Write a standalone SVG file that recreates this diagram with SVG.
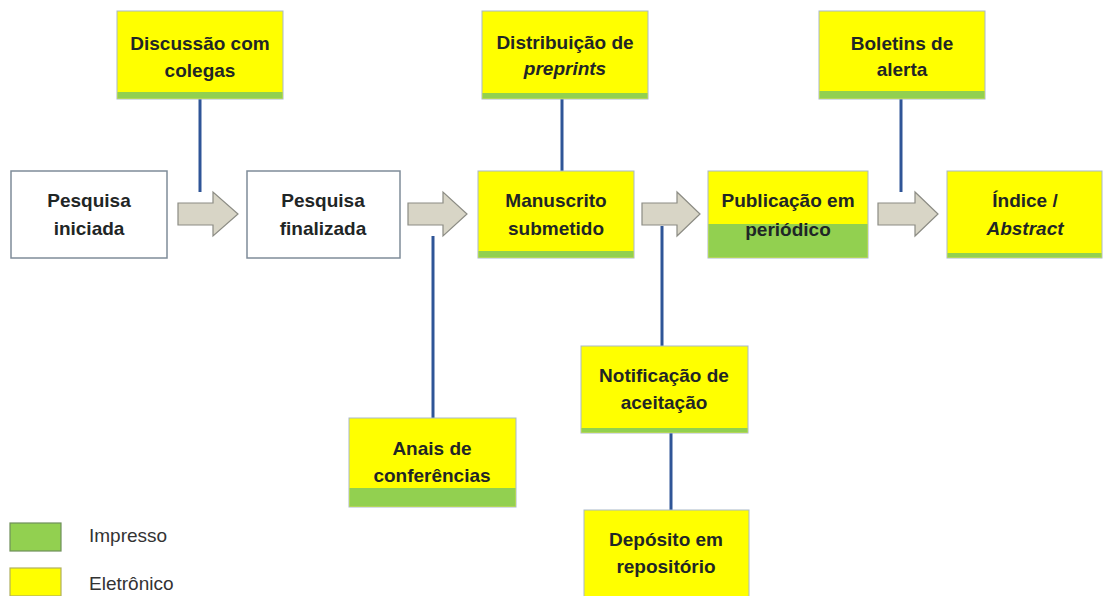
<svg xmlns="http://www.w3.org/2000/svg" width="1104" height="596" viewBox="0 0 1104 596">
<style>
.y{fill:#ffff00;stroke:#a9b9c9;stroke-width:1}
.g{fill:#92d050}
.w{fill:#ffffff;stroke:#7f8c99;stroke-width:1.5}
.t{font-family:"Liberation Sans",Arial,sans-serif;font-weight:bold;font-size:19px;fill:#1f2626;text-anchor:middle}
.i{font-style:italic}
.l{stroke:#2f5597;stroke-width:3;fill:none}
.a{fill:#d8d5c6;stroke:#8c8c84;stroke-width:1.2}
.lg{font-family:"Liberation Sans",Arial,sans-serif;font-size:19px;fill:#333}
</style>
<rect width="1104" height="596" fill="#ffffff"/>
<g id="connectors">
<line class="l" x1="200" y1="99" x2="200" y2="192"/>
<line class="l" x1="562" y1="99" x2="562" y2="171"/>
<line class="l" x1="901" y1="99" x2="901" y2="192"/>
<line class="l" x1="433" y1="236" x2="433" y2="418"/>
<line class="l" x1="662" y1="226" x2="662" y2="346"/>
<line class="l" x1="671" y1="433" x2="671" y2="510"/>
<path class="a" d="M178 203H213V192L238 214L213 236V225H178Z"/>
<path class="a" d="M408 203H443V192L467 214L443 236V225H408Z"/>
<path class="a" d="M642 203H677V192L700 214L677 236V225H642Z"/>
<path class="a" d="M878 203H915V192L938 214L915 236V225H878Z"/>
</g>
<g id="discussao">
<rect class="y" x="117" y="11" width="166" height="88"/>
<rect class="g" x="117.5" y="92" width="165" height="6.5"/>
<text class="t" x="200" y="50">Discussão com</text>
<text class="t" x="200" y="77">colegas</text>
</g>
<g id="distribuicao">
<rect class="y" x="482" y="11" width="166" height="88"/>
<rect class="g" x="482.5" y="93" width="165" height="5.5"/>
<text class="t" x="565" y="49">Distribuição de</text>
<text class="t i" x="565" y="75">preprints</text>
</g>
<g id="boletins">
<rect class="y" x="819" y="11" width="166" height="88"/>
<rect class="g" x="819.5" y="91" width="165" height="7.5"/>
<text class="t" x="902" y="50">Boletins de</text>
<text class="t" x="902" y="76">alerta</text>
</g>
<g id="pesquisa-iniciada">
<rect class="w" x="11" y="171" width="156" height="87"/>
<text class="t" x="89" y="207">Pesquisa</text>
<text class="t" x="89" y="235">iniciada</text>
</g>
<g id="pesquisa-finalizada">
<rect class="w" x="247" y="171" width="153" height="87"/>
<text class="t" x="323" y="207">Pesquisa</text>
<text class="t" x="323" y="235">finalizada</text>
</g>
<g id="manuscrito">
<rect class="y" x="478" y="171" width="156" height="87"/>
<rect class="g" x="478.5" y="251" width="155" height="6.5"/>
<text class="t" x="556" y="207">Manuscrito</text>
<text class="t" x="556" y="235">submetido</text>
</g>
<g id="publicacao">
<rect class="y" x="708" y="171" width="160" height="87"/>
<rect class="g" x="708.5" y="224" width="159" height="33.5"/>
<text class="t" x="788" y="207">Publicação em</text>
<text class="t" x="788" y="236">periódico</text>
</g>
<g id="indice">
<rect class="y" x="947" y="171" width="155" height="87"/>
<rect class="g" x="947.5" y="253" width="154" height="4.5"/>
<text class="t" x="1025" y="207">Índice /</text>
<text class="t i" x="1025" y="235">Abstract</text>
</g>
<g id="anais">
<rect class="y" x="349" y="418" width="167" height="89"/>
<rect class="g" x="349.5" y="488" width="166" height="18.5"/>
<text class="t" x="432" y="455">Anais de</text>
<text class="t" x="432" y="482">conferências</text>
</g>
<g id="notificacao">
<rect class="y" x="581" y="346" width="167" height="87"/>
<rect class="g" x="581.5" y="428" width="166" height="4.5"/>
<text class="t" x="664" y="382">Notificação de</text>
<text class="t" x="664" y="409">aceitação</text>
</g>
<g id="deposito">
<rect class="y" x="584" y="510" width="165" height="90"/>
<text class="t" x="666" y="546">Depósito em</text>
<text class="t" x="666" y="573">repositório</text>
</g>
<g id="legend">
<rect x="10" y="523" width="51" height="28" fill="#92d050" stroke="#6f8f5a" stroke-width="1.2"/>
<text class="lg" x="89" y="542">Impresso</text>
<rect x="10" y="568" width="51" height="28" fill="#ffff00" stroke="#b0b060" stroke-width="1.2"/>
<text class="lg" x="89" y="590">Eletrônico</text>
</g>
</svg>
